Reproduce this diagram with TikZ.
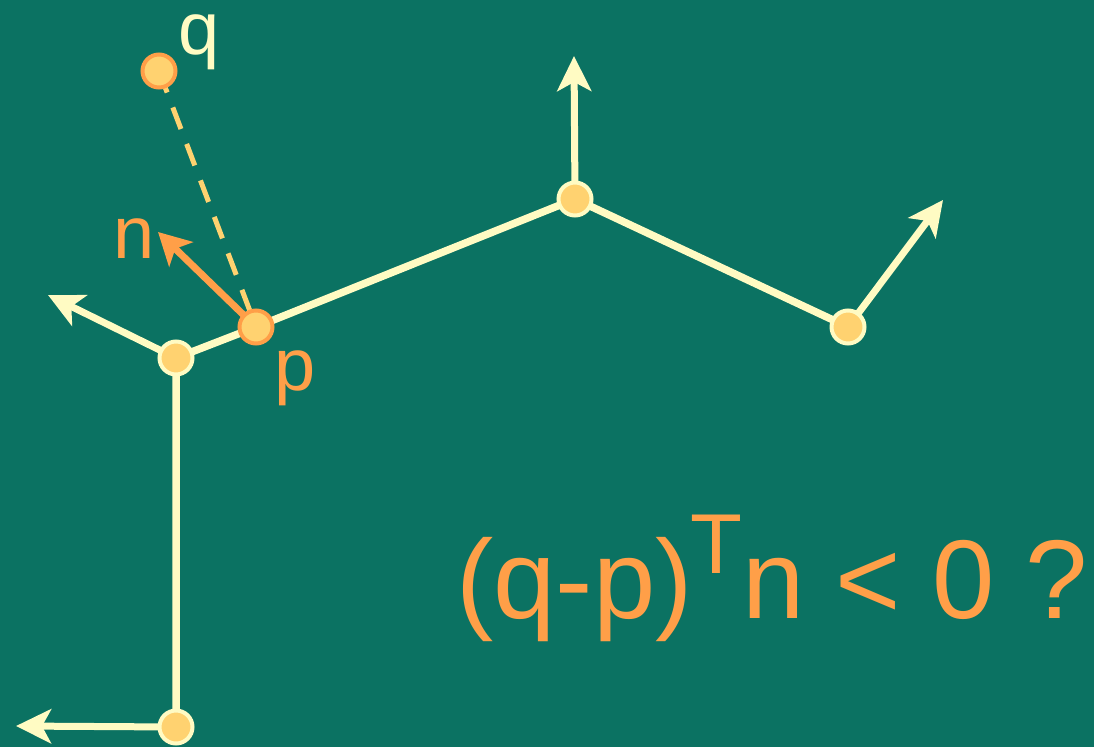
\documentclass[tikz,border=0pt]{standalone}
\usepackage{fontspec}
\setmainfont{Liberation Sans}
\usetikzlibrary{arrows.meta}
\definecolor{bg}{HTML}{0B7262}
\definecolor{cream}{HTML}{FFFBC3}
\definecolor{vfill}{HTML}{FFD270}
\definecolor{orng}{HTML}{FF9F48}
\tikzset{
  vtx/.style={circle,draw=cream,fill=vfill,line width=4pt,minimum size=33pt,inner sep=0pt},
  ovtx/.style={circle,draw=orng,fill=vfill,line width=4pt,minimum size=33pt,inner sep=0pt},
  edge/.style={draw=cream,line width=7.5pt},
  normarrow/.style={draw=cream,line width=7pt,-{Stealth[length=35pt,width=34pt,inset=9pt]}},
  narrow/.style={draw=orng,line width=7pt,-{Stealth[length=32pt,width=34pt,inset=8pt]}},
  dashline/.style={draw=vfill,line width=5pt,dash pattern=on 23pt off 16pt},
  lbl/.style={inner sep=0pt,anchor=base west,font=\fontsize{74}{74}\selectfont},
  big/.style={inner sep=0pt,anchor=base west,text=orng,font=\fontsize{112}{112}\selectfont},
}
\begin{document}
\begin{tikzpicture}[x=1pt,y=-1pt]
\fill[bg] (0,0) rectangle (1094,747);
\useasboundingbox (0,0) rectangle (1094,747);
% vertex positions
\coordinate (c1) at (176,358);
\coordinate (c2) at (575,199);
\coordinate (c3) at (848,327);
\coordinate (c4) at (176,727);
\coordinate (cp) at (256,327);
\coordinate (cq) at (159,71);
% arrow free ends
\coordinate (t1) at (48,295);
\coordinate (t2) at (574,56);
\coordinate (t3) at (943,200);
\coordinate (t4) at (16,726);
\coordinate (tn) at (158,232);
% edges and normals
\draw[edge] (c4) -- (c1) -- (cp) -- (c2) -- (c3);
\draw[normarrow] (c1) -- (t1);
\draw[normarrow] (c2) -- (t2);
\draw[normarrow] (c3) -- (t3);
\draw[normarrow] (c4) -- (t4);
\draw[dashline] (cq) -- (cp);
\draw[narrow] (cp) -- (tn);
% vertices
\node[vtx] (v1) at (c1) {};
\node[vtx] (v2) at (c2) {};
\node[vtx] (v3) at (c3) {};
\node[vtx] (v4) at (c4) {};
\node[ovtx] (p) at (cp) {};
\node[ovtx] (q) at (cq) {};
% labels
\node[lbl,text=cream,text height=40pt] (lq) at (178,54) {q};
\node[lbl,text=orng] (ln) at (113,258) {n};
\node[lbl,text=orng] (lp) at (274,390) {p};
\node[big] (f1) at (456,618) {(q-p)};
\node[inner sep=0pt,anchor=base west,text=orng,font=\fontsize{85}{85}\selectfont] (f2) at (690,573) {T};
\node[big] (f3) at (742,618) {n < 0 ?};
\end{tikzpicture}
\end{document}
